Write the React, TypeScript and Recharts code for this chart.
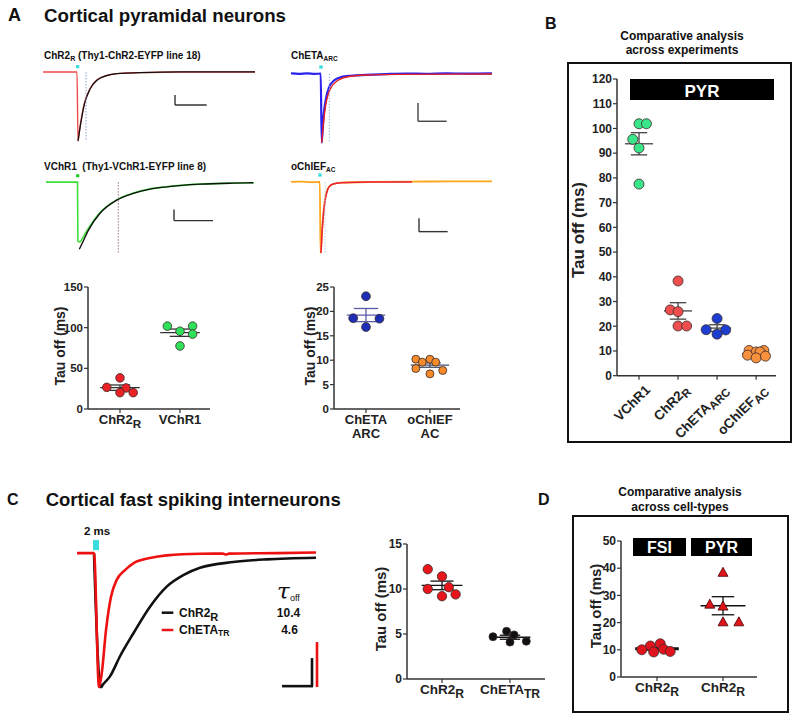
import React from 'react';
import {
  LineChart, Line, XAxis, YAxis, ReferenceLine, ReferenceArea, ScatterChart, Scatter,
} from 'recharts';

type Pt = [number, number];

const FONT = "'Liberation Sans', Arial, Helvetica, sans-serif";
const AX = '#333';

// ---------- traces: time (a.u.) vs current normalised to the peak ----------
const chr2rRaw: Pt[] = [[0, 0], [34, 0], [35, -1], [36.5, -0.84], [38.5, -0.66], [40.5, -0.51], [42.5, -0.4], [45.5, -0.29], [48.5, -0.21], [53.5, -0.12], [60, -0.07], [67, -0.04], [77, -0.02], [97, -0.01], [137, 0], [212, 0]];
const chr2rFit: Pt[] = [[35, -1], [37, -0.81], [39, -0.64], [41, -0.49], [43, -0.39], [46, -0.28], [49, -0.2], [54, -0.12], [60, -0.07], [67, -0.04], [77, -0.02], [97, -0.01], [137, 0], [212, 0]];

const chetaRaw: Pt[] = [[0, 0.004], [8, -0.003], [16, 0.004], [24, -0.002], [29.7, 0], [30.7, -1], [32.5, -0.62], [35, -0.36], [38, -0.2], [43, -0.1], [50, -0.05], [60, -0.03], [75, -0.018], [95, -0.006], [115, 0.002], [135, -0.002], [155, 0.004], [175, 0], [201, 0.004]];
const chetaFit: Pt[] = [[30.7, -1], [34, -0.52], [39, -0.23], [45.7, -0.11], [55.7, -0.048], [75.7, -0.019], [109, -0.01], [201, -0.005]];

const vchr1Raw: Pt[] = [[0, 0], [31.5, 0], [31.9, -0.97], [34, -0.98], [36, -0.93], [40, -0.82], [44, -0.72], [54, -0.5], [70.7, -0.29], [87.3, -0.18], [104, -0.11], [120.7, -0.075], [154, -0.032], [187.3, -0.015], [208, -0.01]];
const vchr1Fit: Pt[] = [[33.3, -1.1], [38, -0.94], [42.3, -0.79], [54, -0.51], [70.7, -0.295], [87.3, -0.185], [104, -0.115], [120.7, -0.077], [154, -0.033], [187.3, -0.016], [207.3, -0.011]];

const ochiefRaw: Pt[] = [[0, 0], [10, 0.004], [20, -0.003], [28.8, 0], [29.5, -1], [30.5, -0.85], [31.5, -0.6], [33, -0.35], [35, -0.17], [38, -0.07], [42, -0.03], [50, -0.01], [80, 0], [120, 0.004], [160, 0.008], [201, 0.008]];
const ochiefFit: Pt[] = [[30, -1], [31, -0.72], [32.5, -0.45], [34, -0.27], [36, -0.14], [38, -0.07], [42, -0.03], [50, -0.01], [80, 0], [121, 0]];

const fsiChetaTr: Pt[] = [[0, 0], [17, 0], [22, -1], [24.7, -0.9], [29, -0.575], [34, -0.326], [39.7, -0.2], [48, -0.127], [56.3, -0.077], [73, -0.037], [89.7, -0.017], [123, -0.005], [146, -0.004], [149, -0.011], [152, -0.004], [200, 0], [239, 0.004]];
const fsiChr2r: Pt[] = [[17, 0], [22.5, -0.96], [24, -1], [26, -0.98], [33, -0.92], [43, -0.77], [56.3, -0.6], [73, -0.4], [89.7, -0.25], [106.3, -0.164], [123, -0.11], [156.3, -0.067], [189.7, -0.047], [239, -0.035]];

// ---------- tau off (ms) per cell ----------
const chr2rPyr = [38.3, 26.6, 25.9, 20.1, 20.1];
const vchr1Pyr = [101.9, 101.9, 95.6, 92.1, 77.5];
const chetaArcPyr = [23.1, 18.6, 18.5, 16.8];
const ochiefAcPyr = [10.2, 9.6, 10.2, 9.6, 8.3, 7.2, 7.9];
const chr2rFsi = [12.2, 11.4, 10.0, 9.2, 10.2, 9.4];
const chetaTrFsi = [4.7, 5.3, 4.9, 4.1, 4.2];

// horizontal scatter of the dots, in category units
const jitA1 = [0, -0.22, 0.1, 0, 0.22];
const jitA2 = [-0.21, 0.21, 0, 0.21, 0];
const jitA3 = [0, -0.2, 0.21, 0];
const jitA4 = [-0.22, -0.12, 0, 0.09, -0.22, 0, 0.2];
const jitB1 = [0, 0.19, -0.16, 0, 0];
const jitB2 = [0, -0.2, 0, 0, 0.22];
const jitB3 = [0, -0.28, 0.22, 0];
const jitB4 = [-0.18, 0, 0.2, 0.1, -0.22, 0, 0.24];
const jitC1 = [-0.21, 0, -0.21, 0, 0.1, 0.2];
const jitC2 = [-0.25, -0.05, 0.06, 0, 0.24];
const jitD1 = [0.05, -0.1, -0.23, -0.05, 0.1, 0.2];
const jitD2 = [0, -0.2, 0, 0, 0.24];

interface Cat { main: string; sub?: string; line2?: string }
const aLeftCats: Cat[] = [{ main: 'ChR2', sub: 'R' }, { main: 'VChR1' }];
const aRightCats: Cat[] = [{ main: 'ChETA', line2: 'ARC' }, { main: 'oChIEF', line2: 'AC' }];
const bCats: Cat[] = [{ main: 'VChR1' }, { main: 'ChR2', sub: 'R' }, { main: 'ChETA', sub: 'ARC' }, { main: 'oChIEF', sub: 'AC' }];
const cCats: Cat[] = [{ main: 'ChR2', sub: 'R' }, { main: 'ChETA', sub: 'TR' }];
const dCats: Cat[] = [{ main: 'ChR2', sub: 'R' }, { main: 'ChR2', sub: 'R' }];

const mean = (v: number[]) => v.reduce((a, b) => a + b, 0) / v.length;
const sem = (v: number[]) => {
  const m = mean(v);
  return Math.sqrt(v.reduce((a, b) => a + (b - m) ** 2, 0) / (v.length - 1) / v.length);
};

// ---------- trace panel ----------
interface Seg { x1: number; y1: number; x2: number; y2: number; color: string; w: number; dash?: string }
interface TraceProps {
  left: number; base: number; amp: number; xMax: number; yMin: number; yMax: number;
  lines: { pts: Pt[]; color: string; w: number }[];
  segs: Seg[];
  stim: { x1: number; x2: number; y1: number; y2: number; color: string };
}

const Trace = ({ left, base, amp, xMax, yMin, yMax, lines, segs, stim }: TraceProps) => {
  const height = (yMax - yMin) * amp;
  return (
    <div style={{ position: 'absolute', left, top: base - yMax * amp }}>
      <LineChart width={xMax} height={height} margin={{ top: 0, right: 0, bottom: 0, left: 0 }}>
        <XAxis type="number" dataKey="t" domain={[0, xMax]} hide />
        <YAxis type="number" domain={[yMin, yMax]} hide />
        <ReferenceArea x1={stim.x1} x2={stim.x2} y1={stim.y1} y2={stim.y2} fill={stim.color} fillOpacity={1} stroke="none" ifOverflow="visible" />
        {lines.map((l, i) => (
          <Line key={i} data={l.pts.map(([t, v]) => ({ t, v }))} dataKey="v" type="monotone"
            stroke={l.color} strokeWidth={l.w} dot={false} isAnimationActive={false} />
        ))}
        {segs.map((s, i) => (
          <ReferenceLine key={'s' + i} segment={[{ x: s.x1, y: s.y1 }, { x: s.x2, y: s.y2 }]}
            stroke={s.color} strokeWidth={s.w} strokeDasharray={s.dash} ifOverflow="visible" />
        ))}
      </LineChart>
    </div>
  );
};

// ---------- dot plot panel ----------
const CatTick = (props: any) => {
  const { x, y, payload, cats, fs, rotate } = props;
  const c: Cat | undefined = cats[Math.round(payload.value) - 1];
  if (!c) return null;
  if (rotate) {
    const ax = x + 12, ay = y + 9;
    return (
      <text x={ax} y={ay} transform={`rotate(-45 ${ax} ${ay})`} textAnchor="end" fontSize={fs} fontWeight="bold" fill="#222" fontFamily={FONT}>
        {c.main}{c.sub && <tspan dy={3} fontSize={fs * 0.85}>{c.sub}</tspan>}
      </text>
    );
  }
  return (
    <text x={x} y={y + 9} textAnchor="middle" fontSize={fs} fontWeight="bold" fill="#222" fontFamily={FONT}>
      {c.main}{c.sub && <tspan dy={4} fontSize={fs * 0.9}>{c.sub}</tspan>}
      {c.line2 && <tspan x={x} dy={14}>{c.line2}</tspan>}
    </text>
  );
};

interface Group {
  x: number; vals: number[]; jit: number[]; fill: string; r: number; tri?: boolean;
  line: string; half: number; cap: number; meanW?: number;
}
interface DotPlotProps {
  x0: number; x1: number; yTop: number; yBottom: number;
  xDomain: [number, number]; yDomain: [number, number]; yTicks: number[];
  cats: Cat[]; groups: Group[]; tickFs: number; catFs: number; rotate?: boolean; padB?: number;
}

const PADL = 50, PADT = 14, PADR = 14;

const DotPlot = (p: DotPlotProps) => {
  const padB = p.padB ?? 60;
  const width = p.x1 - p.x0 + PADL + PADR;
  const height = p.yBottom - p.yTop + PADT + padB;
  return (
    <div style={{ position: 'absolute', left: p.x0 - PADL, top: p.yTop - PADT }}>
      <ScatterChart width={width} height={height} margin={{ top: PADT, right: PADR, bottom: 0, left: 0 }}>
        <XAxis type="number" dataKey="x" domain={p.xDomain} ticks={p.cats.map((_, i) => i + 1)} interval={0}
          height={padB} tickSize={4} tickMargin={2} allowDataOverflow
          axisLine={{ stroke: AX, strokeWidth: 1.5 }} tickLine={{ stroke: AX, strokeWidth: 1.2 }}
          tick={<CatTick cats={p.cats} fs={p.catFs} rotate={p.rotate} />} />
        <YAxis type="number" dataKey="y" domain={p.yDomain} ticks={p.yTicks} interval={0}
          width={PADL} tickSize={4} tickMargin={1} allowDataOverflow
          axisLine={{ stroke: AX, strokeWidth: 1.5 }} tickLine={{ stroke: AX, strokeWidth: 1.2 }}
          tick={{ fill: '#222', fontSize: p.tickFs, fontWeight: 'bold', fontFamily: FONT }} />
        {p.groups.map((g, gi) => (
          <Scatter key={gi} data={g.vals.map((v, i) => ({ x: g.x + g.jit[i], y: v }))} isAnimationActive={false}
            shape={(s: any) => g.tri
              ? <polygon points={`${s.cx},${s.cy - 5.5} ${s.cx + 5},${s.cy + 3.5} ${s.cx - 5},${s.cy + 3.5}`} fill={g.fill} stroke="#400" strokeWidth={0.8} />
              : <circle cx={s.cx} cy={s.cy} r={g.r} fill={g.fill} stroke="#3a2a2a" strokeWidth={0.8} />} />
        ))}
        {p.groups.map((g, gi) => {
          const m = mean(g.vals), e = sem(g.vals);
          return [
            <ReferenceLine key={`m${gi}`} segment={[{ x: g.x - g.half, y: m }, { x: g.x + g.half, y: m }]} stroke={g.line} strokeWidth={g.meanW ?? 1.3} />,
            <ReferenceLine key={`u${gi}`} segment={[{ x: g.x - g.cap, y: m + e }, { x: g.x + g.cap, y: m + e }]} stroke={g.line} strokeWidth={1.3} />,
            <ReferenceLine key={`l${gi}`} segment={[{ x: g.x - g.cap, y: m - e }, { x: g.x + g.cap, y: m - e }]} stroke={g.line} strokeWidth={1.3} />,
            <ReferenceLine key={`v${gi}`} segment={[{ x: g.x, y: m - e }, { x: g.x, y: m + e }]} stroke={g.line} strokeWidth={1.3} />,
          ];
        })}
      </ScatterChart>
    </div>
  );
};

const yLabel = (x: number, y: number, fs: number) => (
  <text transform={`translate(${x} ${y}) rotate(-90)`} textAnchor="middle" fontSize={fs} fill="#222">Tau off (ms)</text>
);

const Overlay = () => (
  <svg width={799} height={721} style={{ position: 'absolute', left: 0, top: 0, pointerEvents: 'none' }}
    fontFamily={FONT} fontWeight="bold" fill="#111">
    {/* A */}
    <text x={8} y={21} fontSize={18}>A</text>
    <text x={44} y={21.7} fontSize={18.7}>Cortical pyramidal neurons</text>
    <text x={44} y={58.7} fontSize={10}>ChR2<tspan dy={2.5} fontSize={7}>R</tspan><tspan dy={-2.5}>{' (Thy1-ChR2-EYFP line 18)'}</tspan></text>
    <text x={44} y={169.5} fontSize={10}>{'VChR1\u00a0 (Thy1-VChR1-EYFP line 8)'}</text>
    <text x={291} y={58.5} fontSize={10}>ChETA<tspan dy={2.5} fontSize={6.5}>ARC</tspan></text>
    <text x={291} y={169.5} fontSize={10}>oChIEF<tspan dy={2.5} fontSize={6.5}>AC</tspan></text>
    {yLabel(65, 346, 14)}
    {yLabel(315, 346, 14)}
    {/* B */}
    <text x={545} y={29} fontSize={16}>B</text>
    <text x={682} y={39.5} fontSize={12} textAnchor="middle">Comparative analysis</text>
    <text x={682} y={54} fontSize={12} textAnchor="middle">across experiments</text>
    <rect x={568} y={63} width={223} height={379} fill="none" stroke="#111" strokeWidth={2} />
    <rect x={630} y={79} width={144} height={21} fill="#000" />
    <text x={702} y={96.7} fontSize={17} fill="#fff" textAnchor="middle">PYR</text>
    {yLabel(584, 230, 17)}
    {/* C */}
    <text x={7} y={505} fontSize={16}>C</text>
    <text x={45.7} y={506} fontSize={18.5}>Cortical fast spiking interneurons</text>
    <text x={84} y={535} fontSize={11.5}>2 ms</text>
    <line x1={161.7} x2={173.3} y1={612.7} y2={612.7} stroke="#111" strokeWidth={2.5} />
    <text x={179} y={617} fontSize={12}>ChR2<tspan dy={4} fontSize={11}>R</tspan></text>
    <line x1={161.7} x2={173.3} y1={630} y2={630} stroke="#e8161b" strokeWidth={2.5} />
    <text x={179} y={634} fontSize={12}>ChETA<tspan dy={2} fontSize={8.5}>TR</tspan></text>
    <text x={277} y={599} fontSize={23} fontFamily="'DejaVu Serif', serif" fontStyle="italic" fontWeight="normal">τ</text>
    <text x={290} y={601} fontSize={9} fontWeight="normal">off</text>
    <text x={288.5} y={617} fontSize={12} textAnchor="middle">10.4</text>
    <text x={289.5} y={634} fontSize={12} textAnchor="middle">4.6</text>
    {yLabel(386, 609, 15)}
    {/* D */}
    <text x={538} y={505} fontSize={16}>D</text>
    <text x={680} y={495.7} fontSize={12} textAnchor="middle">Comparative analysis</text>
    <text x={680} y={511} fontSize={12} textAnchor="middle">across cell-types</text>
    <rect x={573} y={516} width={215} height={196} fill="none" stroke="#111" strokeWidth={2} />
    <rect x={633} y={538} width={53} height={18} fill="#000" />
    <text x={659.5} y={553.3} fontSize={16} fill="#fff" textAnchor="middle">FSI</text>
    <rect x={691} y={538} width={61} height={18} fill="#000" />
    <text x={721.5} y={553.3} fontSize={16} fill="#fff" textAnchor="middle">PYR</text>
    {yLabel(601, 606, 15)}
  </svg>
);

const CYAN = '#38dede';

export default function App() {
  return (
    <div style={{ position: 'absolute', left: 0, top: 0, width: 799, height: 721, background: '#fff', overflow: 'hidden', fontFamily: FONT }}>
      {/* A traces */}
      <Trace left={43} base={72} amp={69} xMax={212} yMin={-1.05} yMax={0.13}
        lines={[{ pts: chr2rRaw, color: '#f04848', w: 1.4 }, { pts: chr2rFit, color: '#111', w: 1.3 }]}
        stim={{ x1: 33, x2: 36.3, y1: 0.054, y2: 0.1, color: CYAN }}
        segs={[
          { x1: 43, y1: 0, x2: 43, y2: -1, color: '#8a9ad0', w: 1, dash: '1.5 1.5' },
          { x1: 132, y1: -0.333, x2: 132, y2: -0.478, color: '#333', w: 1.4 },
          { x1: 132, y1: -0.478, x2: 163.7, y2: -0.478, color: '#333', w: 1.4 },
        ]} />
      <Trace left={291} base={74} amp={69} xMax={201} yMin={-1.05} yMax={0.14}
        lines={[{ pts: chetaRaw, color: '#2a22ee', w: 2.2 }, { pts: chetaFit, color: '#e82020', w: 1.4 }]}
        stim={{ x1: 28.3, x2: 31.7, y1: 0.072, y2: 0.12, color: CYAN }}
        segs={[
          { x1: 38.3, y1: 0, x2: 38.3, y2: -1, color: '#9ab0e0', w: 1, dash: '1.5 1.5' },
          { x1: 127, y1: -0.425, x2: 127, y2: -0.69, color: '#444', w: 1.4 },
          { x1: 127, y1: -0.69, x2: 155.7, y2: -0.69, color: '#444', w: 1.4 },
        ]} />
      <Trace left={46} base={182} amp={61} xMax={208} yMin={-1.2} yMax={0.15}
        lines={[{ pts: vchr1Raw, color: '#3ee03a', w: 1.6 }, { pts: vchr1Fit, color: '#111', w: 1.4 }]}
        stim={{ x1: 30, x2: 33.3, y1: 0.08, y2: 0.13, color: '#22cc22' }}
        segs={[
          { x1: 72.3, y1: 0, x2: 72.3, y2: -1.17, color: '#a07090', w: 1, dash: '1.5 1.5' },
          { x1: 128, y1: -0.45, x2: 128, y2: -0.63, color: '#333', w: 1.4 },
          { x1: 128, y1: -0.63, x2: 167, y2: -0.63, color: '#333', w: 1.4 },
        ]} />
      <Trace left={291} base={182} amp={71} xMax={201} yMin={-1.05} yMax={0.14}
        lines={[{ pts: ochiefRaw, color: '#ffa51a', w: 1.8 }, { pts: ochiefFit, color: '#e8203a', w: 1.5 }]}
        stim={{ x1: 27.3, x2: 30.7, y1: 0.075, y2: 0.12, color: CYAN }}
        segs={[
          { x1: 34, y1: 0, x2: 34, y2: -1, color: '#b8c8ea', w: 1, dash: '1.5 1.5' },
          { x1: 128, y1: -0.51, x2: 128, y2: -0.7, color: '#333', w: 1.4 },
          { x1: 128, y1: -0.7, x2: 156.7, y2: -0.7, color: '#333', w: 1.4 },
        ]} />

      {/* A dot plots */}
      <DotPlot x0={88} x1={210} yTop={287} yBottom={409} xDomain={[0.467, 2.5]} yDomain={[0, 150]} yTicks={[0, 50, 100, 150]}
        cats={aLeftCats} tickFs={11.5} catFs={13}
        groups={[
          { x: 1, vals: chr2rPyr, jit: jitA1, fill: '#ea2226', r: 4.3, line: '#333', half: 0.33, cap: 0.17 },
          { x: 2, vals: vchr1Pyr, jit: jitA2, fill: '#2ee05a', r: 4.3, line: '#333', half: 0.33, cap: 0.17 },
        ]} />
      <DotPlot x0={334} x1={460} yTop={287} yBottom={409} xDomain={[0.5, 2.47]} yDomain={[0, 25]} yTicks={[0, 5, 10, 15, 20, 25]}
        cats={aRightCats} tickFs={11.5} catFs={13}
        groups={[
          { x: 1, vals: chetaArcPyr, jit: jitA3, fill: '#1f2fb5', r: 4.4, line: '#5a5aa8', half: 0.3, cap: 0.19 },
          { x: 2, vals: ochiefAcPyr, jit: jitA4, fill: '#f68b2c', r: 4, line: '#44506a', half: 0.3, cap: 0.17 },
        ]} />

      {/* B */}
      <DotPlot x0={617} x1={776} yTop={79} yBottom={375.7} xDomain={[0.436, 4.51]} yDomain={[0, 120]}
        yTicks={[0, 10, 20, 30, 40, 50, 60, 70, 80, 90, 100, 110, 120]}
        cats={bCats} tickFs={12} catFs={13.5} rotate padB={76}
        groups={[
          { x: 1, vals: vchr1Pyr, jit: jitB1, fill: '#3ae68a', r: 5, line: '#444', half: 0.36, cap: 0.21 },
          { x: 2, vals: chr2rPyr, jit: jitB2, fill: '#ef4e4e', r: 5, line: '#444', half: 0.36, cap: 0.21 },
          { x: 3, vals: chetaArcPyr, jit: jitB3, fill: '#1d3cd0', r: 5, line: '#444', half: 0.36, cap: 0.21 },
          { x: 4, vals: ochiefAcPyr, jit: jitB4, fill: '#f7913d', r: 5, line: '#444', half: 0.36, cap: 0.21 },
        ]} />

      {/* C trace */}
      <Trace left={77} base={553} amp={134} xMax={242} yMin={-1.04} yMax={0.12}
        lines={[{ pts: fsiChr2r, color: '#111', w: 2.6 }, { pts: fsiChetaTr, color: '#ee1111', w: 2.6 }]}
        stim={{ x1: 16, x2: 22, y1: 0.022, y2: 0.097, color: CYAN }}
        segs={[
          { x1: 205, y1: -0.993, x2: 236, y2: -0.993, color: '#111', w: 2.6 },
          { x1: 235, y1: -0.784, x2: 235, y2: -0.993, color: '#111', w: 2.6 },
          { x1: 240, y1: -0.664, x2: 240, y2: -1.0, color: '#ee1111', w: 2.6 },
        ]} />
      <DotPlot x0={407} x1={545} yTop={544} yBottom={679} xDomain={[0.485, 2.515]} yDomain={[0, 15]} yTicks={[0, 5, 10, 15]}
        cats={cCats} tickFs={12} catFs={13.5}
        groups={[
          { x: 1, vals: chr2rFsi, jit: jitC1, fill: '#e8161b', r: 4.7, line: '#111', half: 0.3, cap: 0.17 },
          { x: 2, vals: chetaTrFsi, jit: jitC2, fill: '#111', r: 4, line: '#111', half: 0.3, cap: 0.15 },
        ]} />

      {/* D */}
      <DotPlot x0={621} x1={757} yTop={541} yBottom={677} xDomain={[0.455, 2.515]} yDomain={[0, 50]} yTicks={[0, 10, 20, 30, 40, 50]}
        cats={dCats} tickFs={12} catFs={13.5}
        groups={[
          { x: 1, vals: chr2rFsi, jit: jitD1, fill: '#e0141c', r: 5, line: '#111', half: 0.33, cap: 0.17, meanW: 3 },
          { x: 2, vals: chr2rPyr, jit: jitD2, fill: '#e0141c', r: 5, tri: true, line: '#111', half: 0.34, cap: 0.17 },
        ]} />

      <Overlay />
    </div>
  );
}
